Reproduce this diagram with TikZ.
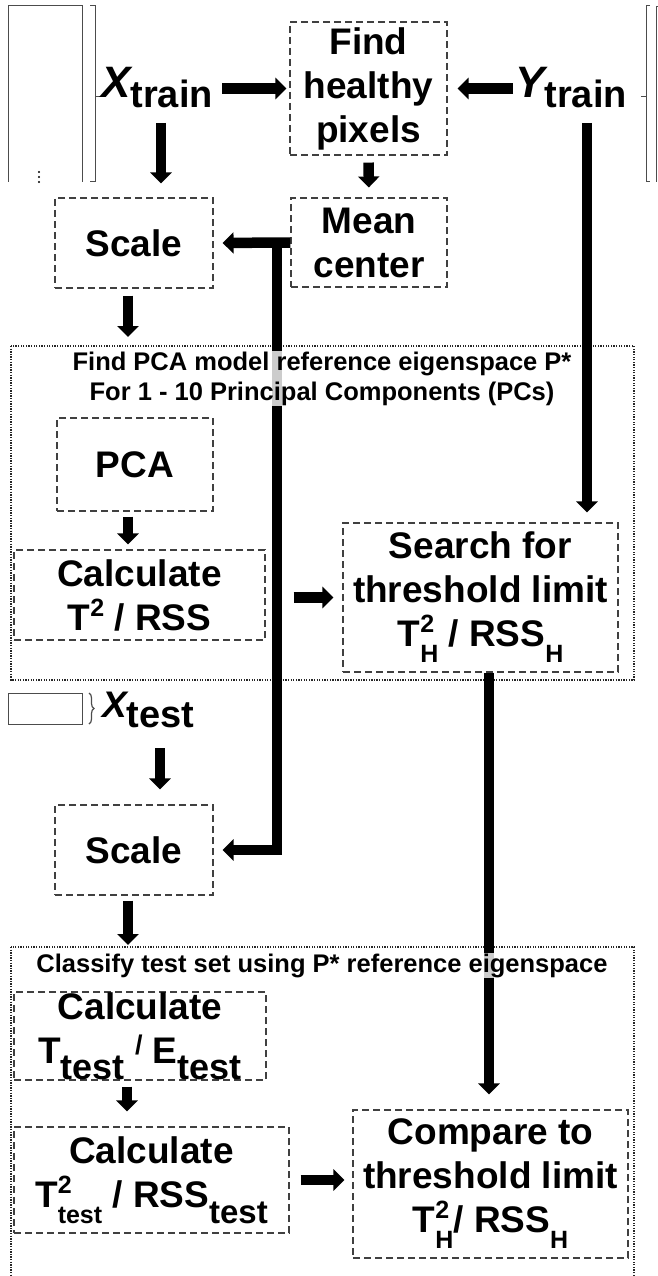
\documentclass[tikz,border=0pt]{standalone}
\usepackage{fontspec}
\setmainfont{Liberation Sans}
\usetikzlibrary{arrows.meta,decorations.pathreplacing}
% raised / lowered indices in the text font
\newcommand\upidx[1]{\raisebox{14pt}{\fontsize{25}{25}\selectfont #1}}
\newcommand\dnidx[2][25]{\raisebox{-16pt}{\fontsize{#1}{#1}\selectfont #2}}
\newcommand\updn[2]{\rlap{\upidx{#1}}\dnidx{#2}}
\begin{document}
\begin{tikzpicture}[x=1pt,y=-1pt,
  box/.style={draw=black!75, dash pattern=on 7pt off 4pt, line width=1.1pt,
    align=center, inner sep=0pt, font=\bfseries\fontsize{37}{44}\selectfont},
  panel/.style={draw=black!85, line width=1.3pt, dash pattern=on 1.3pt off 1.3pt},
  fat/.style={line width=10.5pt, -{Triangle[width=21pt,length=11pt]}},
  heavy/.style={line width=10.5pt, -{Triangle[width=21pt,length=11pt]}},
  ttl/.style={font=\bfseries\fontsize{25.5}{30}\selectfont, align=center,
    fill=white, fill opacity=0.8, text opacity=1, inner sep=1pt},
  frame/.style={draw=black!70, line width=1pt},
  lbl/.style={anchor=base west, inner sep=0pt}]
\useasboundingbox (0,0) rectangle (658,1276);

% data matrices and brackets
\draw[frame] (8,182) -- (8,6) -- (82,6) -- (82,182);
\foreach \y in {172,177,182} \fill (39,\y) circle (1.1pt);
\draw[frame] (90,6) -- (95,6) -- (95,182) -- (90,182);
\draw[frame] (95,97) -- (100,97);
\draw[frame] (650,6) -- (646,6) -- (646,182) -- (650,182);
\draw[frame] (646,97) -- (641,97);
\draw[frame] (662,7) -- (656,7) -- (656,182);
\draw[frame] (8,693) rectangle (82,724);
\draw[frame, line width=1.2pt, decorate, decoration={brace, amplitude=5pt}] (89,693) -- (89,724);

% variable labels
\node[lbl] (xtr) at (101,98) {\bfseries\itshape\fontsize{44}{44}\selectfont X\raisebox{-10pt}{\upshape\fontsize{38}{38}\selectfont train}};
\node[lbl] (ytr) at (515,98) {\bfseries\itshape\fontsize{44}{44}\selectfont Y\raisebox{-10pt}{\upshape\fontsize{38}{38}\selectfont train}};
\node[lbl] (xte) at (102,717) {\bfseries\itshape\fontsize{37}{37}\selectfont X\raisebox{-10pt}{\upshape\fontsize{38}{38}\selectfont test}};

% panels
\draw[panel] (11,346) rectangle (634,680);
\draw[panel] (11,947) rectangle (634,1290);

% processing steps
\node[box, minimum width=157pt, minimum height=133pt] (find) at (368.5,88.5) {Find\\healthy\\pixels};
\node[box, minimum width=156pt, minimum height=89pt] (mean) at (369,242.5) {Mean\\center};
\node[box, minimum width=158pt, minimum height=90pt] (scale1) at (134,243) {Scale};
\node[box, minimum width=156pt, minimum height=93pt] (pca) at (135,464.5) {PCA};
\node[box, minimum width=251pt, minimum height=90pt] (calc1) at (139.5,595) {Calculate\\T\upidx{2} / RSS};
\node[box, minimum width=275pt, minimum height=149pt] (search) at (480.5,597.5) {Search for\\threshold limit\\T\updn{2}{H} / RSS\dnidx{H}};
\node[box, minimum width=158pt, minimum height=90pt] (scale2) at (134,850) {Scale};
\node[box, minimum width=252pt, minimum height=88pt] (calc2) at (140,1036) {Calculate\\T\dnidx[36]{test} \raisebox{9pt}{\fontsize{27}{27}\selectfont /} E\dnidx[36]{test}};
\node[box, minimum width=275pt, minimum height=106pt] (calc3) at (151.5,1180) {Calculate\\T\updn{2}{test} / RSS\dnidx[33]{test}};
\node[box, minimum width=275pt, minimum height=148pt] (comp) at (490.5,1184) {Compare to\\threshold limit\\T\updn{2}{H}/ RSS\dnidx{H}};

% connectors
\draw[fat, shorten <=9pt, shorten >=3pt] (xtr.east |- find.west) -- (find.west);
\coordinate (yl) at (ytr.west |- find.east);
\draw[fat, shorten <=2pt, shorten >=10pt] (yl) -- (find.east);
\coordinate (xd) at (161,123);
\draw[fat, shorten >=14pt] (xd) -- (xd |- scale1.north);
\draw[fat, shorten <=7pt, shorten >=10pt] (find.south) -- (mean.north);
\draw[heavy, shorten >=9pt] (mean.west) -- (scale1.east);
\coordinate (jn) at (277,242.5);
\draw[heavy, line join=miter, shorten >=9pt] (jn) |- (scale2.east);
\draw[fat, shorten <=7pt, shorten >=9pt] ([xshift=-6pt]scale1.south) -- ([xshift=-6pt]scale1.south |- 0,346);
\draw[fat, shorten <=5pt, shorten >=5pt] ([xshift=-7pt]pca.south) -- ([xshift=-7pt]pca.south |- calc1.north);
\draw[fat, shorten <=28pt, shorten >=9pt] (calc1.east |- search.west) -- (search.west);
\draw[heavy, shorten >=15pt] ([xshift=8.5pt]search.south) -- ([xshift=-1.5pt]comp.north);
\coordinate (xtd) at (160,748);
\draw[fat, shorten >=15pt] (xtd) -- (xtd |- scale2.north);
\draw[fat, shorten <=5pt, shorten >=2pt] ([xshift=-6pt]scale2.south) -- ([xshift=-6pt]scale2.south |- 0,947);
\draw[fat, shorten <=6pt, shorten >=15pt] ([xshift=-13pt]calc2.south) -- ([xshift=-13pt]calc2.south |- calc3.north);
\draw[fat, shorten <=11pt, shorten >=8pt] (calc3.east) -- (calc3.east -| comp.west);

% panel titles
\node[ttl, anchor=base] (t1) at (322,400) {Find PCA model reference eigenspace P*\\For 1 - 10 Principal Components (PCs)};
\node[ttl, anchor=base] (t2) at (322,972) {Classify test set using P* reference eigenspace};

% label arrow passing the first title
\coordinate (yd) at (587,123);
\draw[heavy, shorten >=10pt] (yd) -- (yd |- search.north);
\end{tikzpicture}
\end{document}
